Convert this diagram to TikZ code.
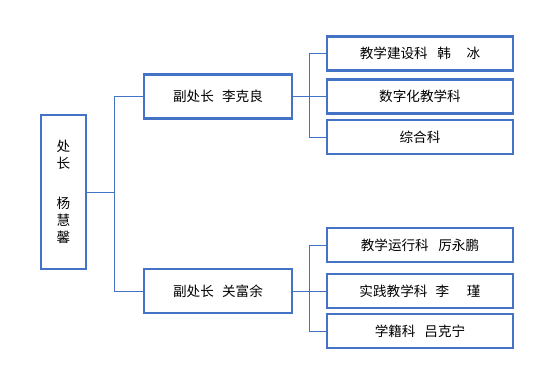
\documentclass[tikz,border=0pt]{standalone}
\usepackage{fontspec}
\setmainfont{Noto Sans CJK SC}
\usetikzlibrary{positioning}
\definecolor{lineC}{HTML}{4472C4}

\begin{document}
\begin{tikzpicture}[x=1pt,y=-1pt,
  box/.style={draw=lineC,line width=2.2pt,fill=white,inner sep=0pt,
              font=\fontsize{13.6}{17}\selectfont},
  link/.style={draw=lineC,line width=0.9pt}]
  \useasboundingbox (0,0) rectangle (559,380);

  % head of office
  \node[box,minimum width=45pt,minimum height=154pt,align=center] (head) at (63.5,192)
       {处\\长\\[23pt]杨\\慧\\馨};

  % deputies
  \node[box,minimum width=148pt,minimum height=44pt] (depA) at (218,96.5) {副处长\hspace{0.6em}李克良};
  \node[box,minimum width=148pt,minimum height=44pt] (depB) at (218,291) {副处长\hspace{0.6em}关富余};

  % sections
  \foreach \n/\y/\t in {offA1/53.5/{教学建设科\hspace{0.7em}韩\hspace{1.15em}冰},
                        offA2/96.5/{数字化教学科},
                        offA3/137/{综合科},
                        offB1/245/{教学运行科\hspace{0.7em}厉永鹏},
                        offB2/291/{实践教学科\hspace{0.6em}李\hspace{1.3em}瑾},
                        offB3/331/{学籍科\hspace{0.65em}吕克宁}}{
    \node[box,minimum width=186pt,minimum height=34pt] (\n) at (420,\y) {\t};
  }

  % links head -> deputies
  \coordinate (busH) at (114,192);
  \draw[link] (head.east) -- (busH);
  \draw[link] (busH |- depA) -- (busH |- depB);
  \foreach \n in {depA,depB}
    \draw[link] (busH |- \n) -- (\n.west);

  % links deputies -> sections
  \coordinate (busA) at (309,96.5);
  \coordinate (busB) at (309,291);
  \draw[link] (depA.east) -- (busA);
  \draw[link] (depB.east) -- (busB);
  \draw[link] (busA |- offA1) -- (busA |- offA3);
  \draw[link] (busB |- offB1) -- (busB |- offB3);
  \foreach \n in {offA1,offA2,offA3}
    \draw[link] (busA |- \n) -- (\n.west);
  \foreach \n in {offB1,offB2,offB3}
    \draw[link] (busB |- \n) -- (\n.west);
\end{tikzpicture}
\end{document}
